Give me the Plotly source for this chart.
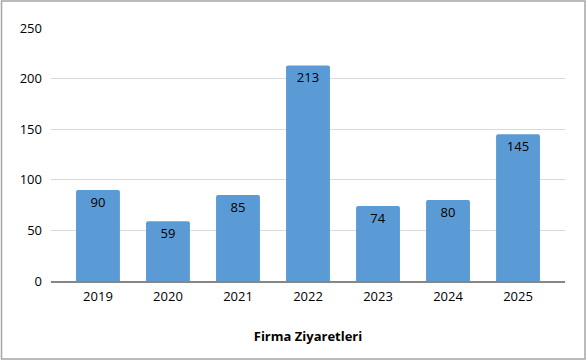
import plotly.graph_objects as go

years = ["2019", "2020", "2021", "2022", "2023", "2024", "2025"]
visits = [90, 59, 85, 213, 74, 80, 145]
y_ticks = [0, 50, 100, 150, 200, 250]
x_title = "Firma Ziyaretleri"

W, H = 587, 362
ml, mr, mt, mb = 51, 22, 28, 81
pw, ph = W - ml - mr, H - mt - mb

def px_x(p):
    return (p - ml) / pw

def px_y(p):
    return (H - mb - p) / ph

font_family = "Open Sans, Noto Sans, sans-serif"
pad = 12 / 70.2  # extra space between plot edge and first/last category

fig = go.Figure(go.Bar(
    x=years, y=visits,
    marker=dict(color="#5B9BD5", line=dict(width=0), cornerradius=2),
    text=[str(v) for v in visits],
    textposition="inside",
    insidetextanchor="end",
    textangle=0,
    textfont=dict(color="#000000", size=13, family=font_family),
    cliponaxis=False,
))

fig.update_layout(
    width=W, height=H,
    margin=dict(l=ml, r=mr, t=mt, b=mb),
    paper_bgcolor="white", plot_bgcolor="white",
    bargap=0.373,
    showlegend=False,
    font=dict(family=font_family, size=13, color="#000000"),
    xaxis=dict(
        range=[-0.5 - pad, len(years) - 0.5 + pad],
        showline=True, linecolor="#868686", linewidth=1.5,
        ticks="", tickfont=dict(size=13), ticklabelstandoff=3,
        title=dict(text="<b>" + x_title + "</b>", font=dict(size=13), standoff=28),
    ),
    yaxis=dict(
        range=[0, 250], tickvals=y_ticks,
        showgrid=True, gridcolor="#D9D9D9", gridwidth=1,
        zeroline=False, showline=False, ticks="",
        tickfont=dict(size=13), ticklabelstandoff=8,
    ),
    uniformtext=dict(minsize=8, mode="show"),
)

fig.add_shape(
    type="rect", xref="paper", yref="paper",
    x0=px_x(1.5), x1=px_x(585), y0=px_y(359), y1=px_y(1),
    line=dict(color="#A6A6A6", width=1.5), fillcolor="rgba(0,0,0,0)",
    layer="below",
)

fig.write_html(
    "out.html",
    config={"displayModeBar": False},
    post_script="document.body.style.margin='0';document.body.style.overflow='hidden';",
)
